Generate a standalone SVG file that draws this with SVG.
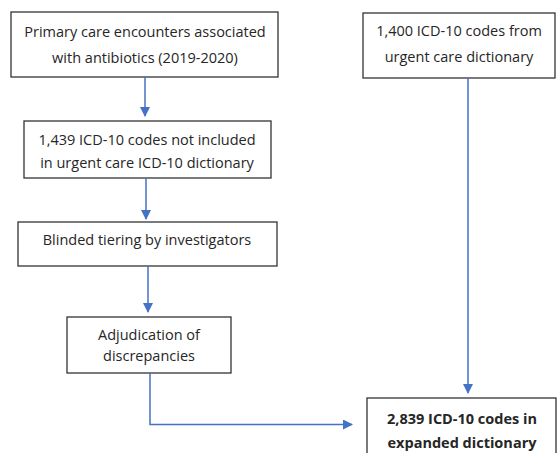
<svg xmlns="http://www.w3.org/2000/svg" width="558" height="453" viewBox="0 0 558 453">
<style>
.box{fill:#fff;stroke:#333;stroke-width:1.3}
.t{font-family:"Open Sans","Liberation Sans",sans-serif;font-size:14.5px;fill:#262626;text-anchor:middle}
.b{font-weight:bold}
.c{fill:none;stroke:#4472C4;stroke-width:1.5}
</style>
<defs>
<marker id="ah" markerWidth="10" markerHeight="10" refX="9" refY="5" orient="auto" markerUnits="userSpaceOnUse">
<path d="M0,0 L10,5 L0,10 z" fill="#4472C4"/>
</marker>
</defs>
<rect width="558" height="453" fill="#fff"/>
<g id="n1"><rect class="box" x="11" y="12" width="267" height="65"/>
<text class="t" x="145" y="37">Primary care encounters associated</text>
<text class="t" x="145" y="63">with antibiotics (2019-2020)</text></g>
<g id="n2"><rect class="box" x="363" y="13" width="192" height="65"/>
<text class="t" x="459" y="36">1,400 ICD-10 codes from</text>
<text class="t" x="459" y="62">urgent care dictionary</text></g>
<g id="n3"><rect class="box" x="24" y="121" width="247" height="57"/>
<text class="t" x="147" y="145">1,439 ICD-10 codes not included</text>
<text class="t" x="147" y="168">in urgent care ICD-10 dictionary</text></g>
<g id="n4"><rect class="box" x="18" y="222" width="259" height="44"/>
<text class="t" x="147" y="245">Blinded tiering by investigators</text></g>
<g id="n5"><rect class="box" x="67" y="317" width="164" height="56"/>
<text class="t" x="149" y="340">Adjudication of</text>
<text class="t" x="149" y="361">discrepancies</text></g>
<g id="n6"><rect class="box" x="367" y="398" width="189" height="60"/>
<text class="t b" x="462" y="424">2,839 ICD-10 codes in</text>
<text class="t b" x="462" y="448">expanded dictionary</text></g>
<g id="connectors">
<path class="c" d="M145,77 V116" marker-end="url(#ah)"/>
<path class="c" d="M146,178 V219" marker-end="url(#ah)"/>
<path class="c" d="M148,266 V312" marker-end="url(#ah)"/>
<path class="c" d="M150,373 V424.5 H352" marker-end="url(#ah)"/>
<path class="c" d="M468,78 V393" marker-end="url(#ah)"/>
</g>
</svg>
